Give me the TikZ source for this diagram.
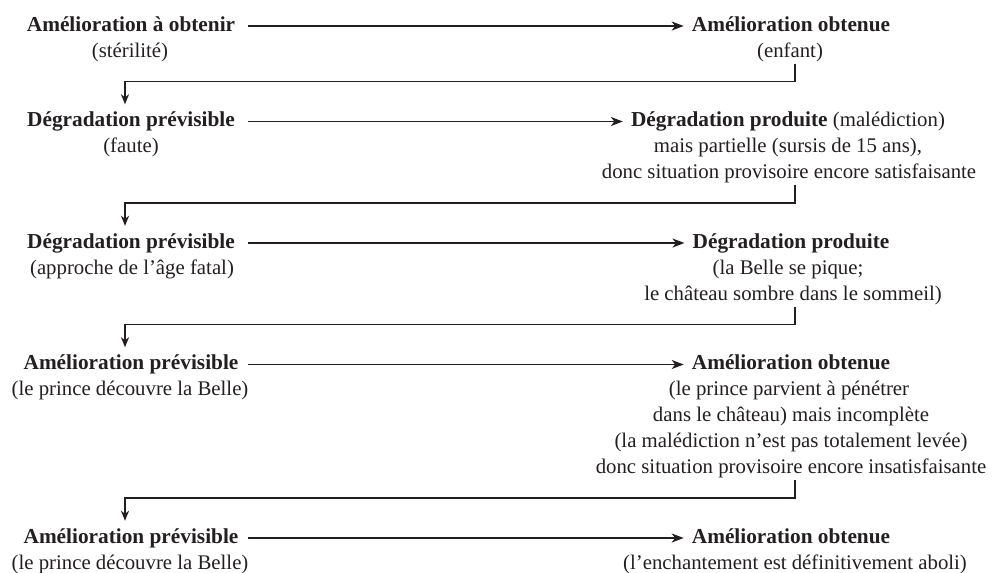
\documentclass[tikz,border=0pt]{standalone}
\usepackage{fontspec}
\setmainfont{Liberation Serif}
\usetikzlibrary{arrows.meta}
\definecolor{ink}{RGB}{35,31,32}
\newcommand{\ttl}[1]{{\fontsize{21.3}{26}\selectfont\bfseries #1}}
\begin{document}
\begin{tikzpicture}[x=1pt,y=-1pt,
  ltitle/.style={font=\fontsize{21.3}{26}\selectfont\bfseries, text=ink, text height=15pt, text depth=5pt, inner sep=0pt, minimum width=234pt, anchor=base},
  rtitle/.style={font=\fontsize{20.8}{26}\selectfont, text=ink, text height=15pt, text depth=5pt, inner xsep=8pt, inner ysep=0pt, anchor=base},
  txt/.style={font=\fontsize{20.8}{26}\selectfont, text=ink, inner sep=0pt, anchor=base},
  flow/.style={draw=ink, line width=1.6pt, -{Stealth[length=12pt,width=9pt,inset=3.5pt]}},
  conn/.style={draw=ink, line width=1.5pt, -{Stealth[length=10pt,width=8pt,inset=3pt]}}]
\useasboundingbox (0,0) rectangle (994,573);

% Row 1
\node[ltitle] (l1) at (131,31) {Amélioration à obtenir};
\node[txt] (l1a) at (130,57) {(stérilité)};
\node[rtitle] (r1) at (791,31) {\ttl{Amélioration obtenue}};
\node[txt] (r1a) at (790,57) {(enfant)};
\draw[flow] (l1) -- (r1);

% Row 2
\node[ltitle] (l2) at (131,126.5) {Dégradation prévisible};
\node[txt] (l2a) at (131,152.5) {(faute)};
\node[rtitle] (r2) at (788,126.5) {\ttl{Dégradation produite} (malédiction)};
\node[txt] (r2a) at (788,152.5) {mais partielle (sursis de 15 ans),};
\node[txt] (r2b) at (789,178.5) {donc situation provisoire encore satisfaisante};
\draw[flow] (l2) -- (r2);

% Row 3
\node[ltitle] (l3) at (131,248) {Dégradation prévisible};
\node[txt] (l3a) at (132,274) {(approche de l’âge fatal)};
\node[rtitle] (r3) at (791,248) {\ttl{Dégradation produite}};
\node[txt] (r3a) at (788,274) {(la Belle se pique;};
\node[txt] (r3b) at (793,300) {le château sombre dans le sommeil)};
\draw[flow] (l3) -- (r3);

% Row 4
\node[ltitle] (l4) at (131,369.5) {Amélioration prévisible};
\node[txt] (l4a) at (130,395.5) {(le prince découvre la Belle)};
\node[rtitle] (r4) at (791,369.5) {\ttl{Amélioration obtenue}};
\node[txt] (r4a) at (789,395.5) {(le prince parvient à pénétrer};
\node[txt] (r4b) at (791,421.5) {dans le château) mais incomplète};
\node[txt] (r4c) at (791,447.5) {(la malédiction n’est pas totalement levée)};
\node[txt] (r4d) at (791,473.5) {donc situation provisoire encore insatisfaisante};
\draw[flow] (l4) -- (r4);

% Row 5
\node[ltitle] (l5) at (131,543) {Amélioration prévisible};
\node[txt] (l5a) at (130,569) {(le prince découvre la Belle)};
\node[rtitle] (r5) at (791,543) {\ttl{Amélioration obtenue}};
\node[txt] (r5a) at (795,569) {(l’enchantement est définitivement aboli)};
\draw[flow] (l5) -- (r5);

% Connectors between rows
\coordinate (k1r) at (795,81.5);  \coordinate (k1l) at (125,81.5);
\coordinate (k2r) at (795,203);   \coordinate (k2l) at (125,203);
\coordinate (k3r) at (795,324.5); \coordinate (k3l) at (125,324.5);
\coordinate (k4r) at (795,498);   \coordinate (k4l) at (125,498);
\draw[conn] ([yshift=-2pt]r1a.south -| k1r) -- (k1r) -- (k1l) -- ([yshift=7pt]l2.north -| k1l);
\draw[conn] ([yshift=-2pt]r2b.south -| k2r) -- (k2r) -- (k2l) -- ([yshift=7pt]l3.north -| k2l);
\draw[conn] ([yshift=-2pt]r3b.south -| k3r) -- (k3r) -- (k3l) -- ([yshift=7pt]l4.north -| k3l);
\draw[conn] ([yshift=-2pt]r4d.south -| k4r) -- (k4r) -- (k4l) -- ([yshift=7pt]l5.north -| k4l);
\end{tikzpicture}
\end{document}
